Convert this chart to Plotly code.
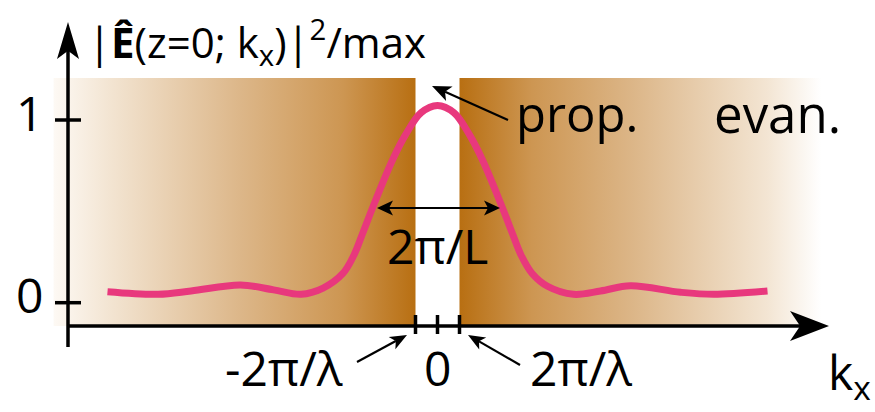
import math
import plotly.graph_objects as go

# Spectrum |E(z=0; kx)|^2 normalised to its maximum; kx in units of 2*pi/lambda
kx = [-15.0, -12.7, -11.2, -8.95, -7.45, -6.2, -5.2, -4.3, -3.8, -3.4, -2.95,
      -2.05, -1.45, -0.75, 0.0, 0.75, 1.45, 2.05, 2.95, 3.4, 3.8, 4.3, 5.0,
      6.18, 7.41, 8.77, 11.05, 12.55, 15.0]
intensity = [0.060, 0.046, 0.064, 0.097, 0.070, 0.046, 0.080, 0.16, 0.26, 0.38,
             0.52, 0.78, 0.92, 1.04, 1.08, 1.04, 0.92, 0.78, 0.52, 0.38, 0.26,
             0.16, 0.090, 0.046, 0.064, 0.093, 0.057, 0.046, 0.064]

# Evanescent bands |kx| > 2*pi/lambda
evan_left = [-17.45, -1.0]
evan_right = [1.0, 17.45]

x_tick_vals = [-1, 0, 1]
x_tick_text = ["-2π/λ", "0", "2π/λ"]
y_tick_vals = [0, 1]
y_tick_text = ["0", "1"]

W, H = 875, 412
X0, SX = 437.5, 22.0     # pixel of kx=0, pixels per unit
Y0, SY = 302.7, 182.7    # pixel of value 0, pixels per unit


def fx(px):
    return (px - X0) / SX


def fy(py):
    return (Y0 - py) / SY


FONT = "Open Sans"
BLACK = "#000000"
PINK = "#E8387D"
brown_scale = [[0.0, "#fdf9f4"], [0.15, "#f3e5d3"], [0.52, "#dcb688"],
               [0.8, "#cd9652"], [1.0, "#b86f12"]]
brown_scale_rev = [[1 - p, c] for p, c in reversed(brown_scale)]
brown_scale_rev[-1] = [1.0, "#ffffff"]

band_top, band_bot = fy(78), fy(326)

fig = go.Figure()

for (a, b), scale in ((evan_left, brown_scale), (evan_right, brown_scale_rev)):
    fig.add_trace(go.Scatter(
        x=[a, b, b, a, a], y=[band_bot, band_bot, band_top, band_top, band_bot],
        mode="lines", line=dict(width=0), fill="toself",
        fillgradient=dict(type="horizontal", colorscale=scale),
        hoverinfo="skip", showlegend=False))

fig.add_trace(go.Scatter(
    x=kx, y=intensity, mode="lines",
    line=dict(color=PINK, width=7, shape="spline", smoothing=1.0),
    showlegend=False))

shapes = []


def path(points):
    return "M " + " L ".join(f"{fx(px)},{fy(py)}" for px, py in points) + " Z"


def head(tip, tail, length, width, notch=0.25):
    """Notched arrow head (in pixel terms) pointing from tail towards tip."""
    dx, dy = tip[0] - tail[0], tip[1] - tail[1]
    n = math.hypot(dx, dy)
    ux, uy = dx / n, dy / n
    px_, py_ = -uy, ux
    bx, by = tip[0] - ux * length, tip[1] - uy * length
    nx, ny = tip[0] - ux * length * (1 - notch), tip[1] - uy * length * (1 - notch)
    pts = [tip, (bx + px_ * width / 2, by + py_ * width / 2), (nx, ny),
           (bx - px_ * width / 2, by - py_ * width / 2)]
    shapes.append(dict(type="path", path=path(pts), fillcolor=BLACK,
                       line=dict(width=0)))
    return (nx, ny)


def seg(p0, p1, width):
    shapes.append(dict(type="line", x0=fx(p0[0]), y0=fy(p0[1]),
                       x1=fx(p1[0]), y1=fy(p1[1]),
                       line=dict(color=BLACK, width=width)))


def arrow(tail, tip, length=17, width=14, both=False, lw=2.2):
    end = head(tip, tail, length, width)
    start = head(tail, tip, length, width) if both else tail
    seg(start, end, lw)


# axes with arrow heads
seg((68, 347), (68, 50), 3.5)
seg((68, 326), (805, 326), 3.5)
head((68, 22), (68, 200), 37, 22, notch=0.22)
head((829, 326), (600, 326), 39, 30, notch=0.26)

# ticks
for v in y_tick_vals:
    shapes.append(dict(type="line", x0=fx(55), x1=fx(81), y0=v, y1=v,
                       line=dict(color=BLACK, width=3.5)))
for v in x_tick_vals:
    shapes.append(dict(type="line", x0=v, x1=v, y0=fy(315), y1=fy(334),
                       line=dict(color=BLACK, width=3.5)))

ann = []


def text(s, px, py, size, xanchor="center"):
    ann.append(dict(text=s, x=fx(px), y=fy(py), xref="x", yref="y",
                    showarrow=False, xanchor=xanchor, yanchor="middle",
                    font=dict(family=FONT, size=size, color=BLACK)))


# tick labels
for v, t in zip(y_tick_vals, y_tick_text):
    text(t, 29, Y0 - SY * v - 8, 48)
x_label_px = [284, 437.5, 581]
for v, t, px in zip(x_tick_vals, x_tick_text, x_label_px):
    text(t, px, 367, 48)

text("|<b>Ê</b>(z=0; k<sub>x</sub>)|<sup>2</sup>/max", 86, 42, 42, xanchor="left")
text("k<sub>x</sub>", 826, 374, 48, xanchor="left")
text("prop.", 514, 113, 49, xanchor="left")
text("evan.", 712, 113, 51, xanchor="left")
text("2π/L", 437.5, 245, 48)

arrow((508, 120), (432, 86), length=19, width=16)
arrow((357, 362), (407, 335))
arrow((520, 365), (468, 335))
arrow((377, 208), (500, 208), length=16, width=15, both=True)

fig.update_layout(
    width=W, height=H, autosize=False,
    margin=dict(l=0, r=0, t=0, b=0),
    paper_bgcolor="white", plot_bgcolor="white",
    xaxis=dict(range=[fx(0), fx(W)], visible=False, fixedrange=True),
    yaxis=dict(range=[fy(H), fy(0)], visible=False, fixedrange=True),
    shapes=shapes, annotations=ann, showlegend=False,
)

fig.write_html("out.html")
